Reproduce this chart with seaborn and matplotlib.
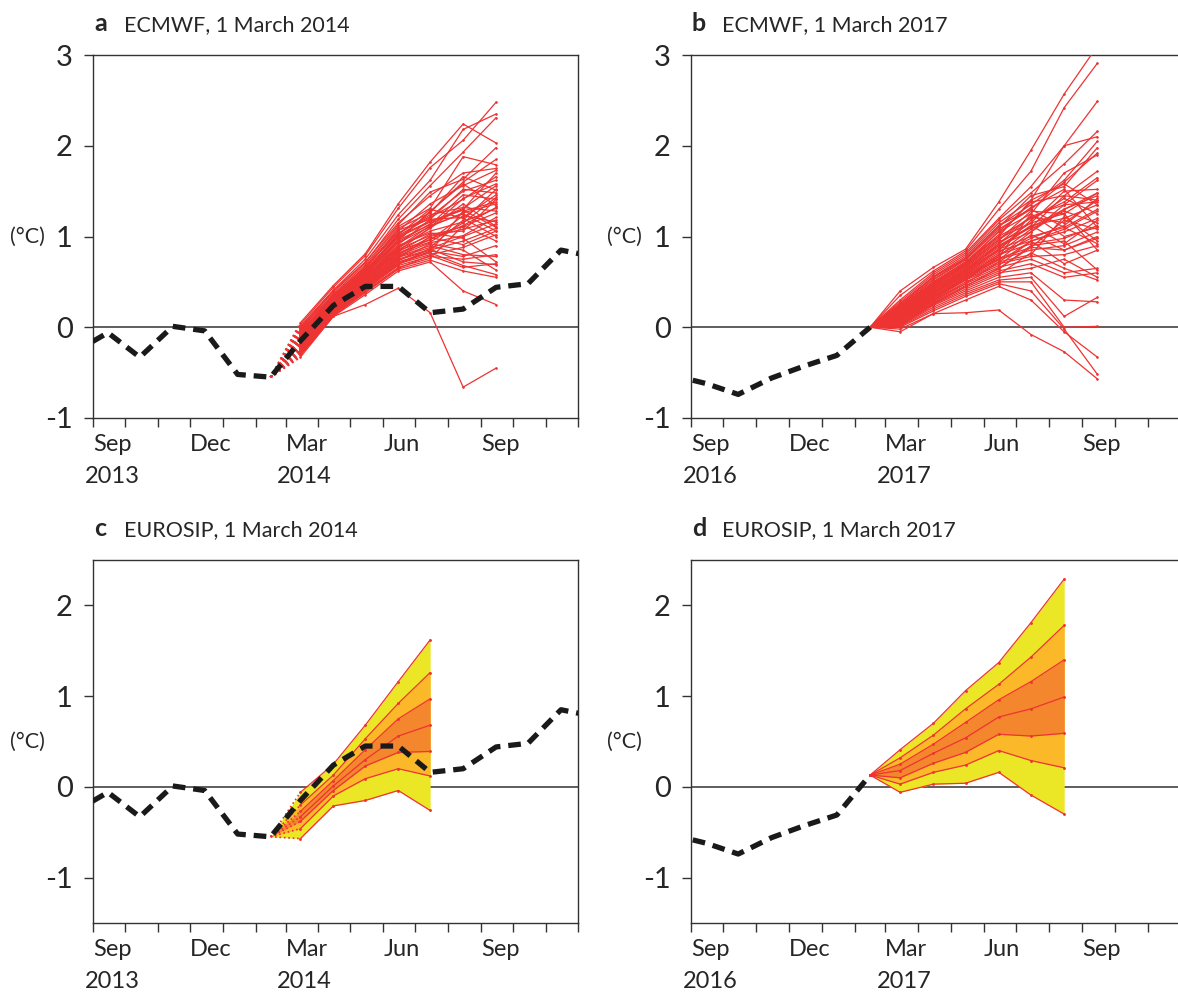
import datetime as dt
import numpy as np
import pandas as pd
import seaborn as sns
import matplotlib
matplotlib.use("Agg")
import matplotlib.pyplot as plt
import matplotlib.transforms as mtransforms

# ---- observed monthly anomalies (deg C), mid-month values ----
obs_1314 = [-0.27, -0.06, -0.33, 0.01, -0.04, -0.52, -0.55, -0.15, 0.24,
            0.45, 0.45, 0.16, 0.20, 0.44, 0.48, 0.85, 0.78]     # Aug 2013 .. Dec 2014
obs_1617 = [-0.53, -0.62, -0.74, -0.56, -0.43, -0.31]           # Aug 2016 .. Jan 2017
init_2014 = -0.55            # forecast start value, Feb 2014
init_2017_ecmwf = 0.00       # forecast start value, Feb 2017 (panel b)
init_2017_eurosip = 0.13     # forecast start value, Feb 2017 (panel d)

# ---- ECMWF ensemble members, Mar .. Sep ----
ecmwf_2014 = [
    [0.05, 0.46, 0.81, 1.36, 1.82, 2.24, 2.03],
    [0.03, 0.44, 0.79, 1.31, 1.76, 2.06, 2.48],
    [0.01, 0.41, 0.75, 1.24, 1.62, 2.18, 2.35],
    [-0.01, 0.39, 0.71, 1.19, 1.56, 1.93, 2.31],
    [-0.03, 0.37, 0.69, 1.13, 1.49, 1.63, 1.98],
    [-0.05, 0.35, 0.67, 1.11, 1.31, 1.88, 1.79],
    [-0.06, 0.34, 0.66, 1.06, 1.36, 1.56, 1.73],
    [-0.08, 0.33, 0.64, 1.09, 1.26, 1.66, 1.51],
    [-0.09, 0.32, 0.62, 1.01, 1.21, 1.41, 1.66],
    [-0.10, 0.31, 0.61, 0.99, 1.16, 1.31, 1.56],
    [-0.11, 0.30, 0.59, 0.96, 1.13, 1.46, 1.41],
    [-0.12, 0.29, 0.58, 0.93, 1.11, 1.26, 1.36],
    [-0.13, 0.28, 0.57, 0.91, 1.19, 1.21, 1.46],
    [-0.14, 0.27, 0.56, 0.89, 1.06, 1.16, 1.31],
    [-0.15, 0.26, 0.55, 0.87, 1.09, 1.36, 1.11],
    [-0.16, 0.26, 0.54, 0.86, 1.01, 1.11, 1.26],
    [-0.17, 0.25, 0.53, 0.85, 0.96, 1.23, 1.16],
    [-0.18, 0.24, 0.52, 0.83, 1.03, 1.06, 1.41],
    [-0.19, 0.23, 0.51, 0.81, 0.99, 0.91, 1.06],
    [-0.20, 0.22, 0.50, 0.79, 0.93, 1.01, 1.21],
    [-0.21, 0.22, 0.49, 0.78, 0.90, 0.80, 0.78],
    [-0.22, 0.21, 0.48, 0.77, 0.88, 1.18, 1.52],
    [-0.23, 0.20, 0.47, 0.75, 0.86, 0.72, 0.69],
    [-0.24, 0.19, 0.46, 0.74, 0.85, 0.95, 1.09],
    [-0.25, 0.18, 0.45, 0.72, 0.83, 1.28, 1.38],
    [-0.26, 0.17, 0.44, 0.71, 0.82, 0.68, 0.58],
    [-0.27, 0.16, 0.43, 0.70, 0.80, 0.88, 1.02],
    [-0.28, 0.15, 0.42, 0.68, 0.78, 0.75, 0.80],
    [-0.29, 0.14, 0.40, 0.66, 0.76, 1.12, 0.95],
    [-0.30, 0.13, 0.38, 0.64, 0.74, 0.62, 0.55],
    [-0.31, 0.12, 0.36, 0.62, 0.72, 0.40, 0.25],
    [-0.33, 0.12, 0.25, 0.43, 0.16, -0.66, -0.45],
    [-0.02, 0.36, 0.66, 1.04, 1.22, 1.50, 1.62],
    [-0.07, 0.31, 0.60, 0.97, 1.27, 1.60, 1.85],
    [-0.10, 0.29, 0.58, 0.94, 1.14, 1.30, 1.70],
    [-0.04, 0.33, 0.63, 1.02, 1.30, 1.20, 1.00],
    [-0.13, 0.27, 0.55, 0.90, 1.04, 0.98, 0.72],
    [-0.16, 0.25, 0.52, 0.84, 1.10, 1.42, 1.58],
    [-0.20, 0.21, 0.48, 0.80, 0.97, 1.12, 1.32],
    [-0.24, 0.19, 0.45, 0.73, 0.92, 0.85, 0.63],
    [-0.28, 0.15, 0.41, 0.69, 0.87, 1.00, 1.14],
    [-0.11, 0.31, 0.61, 1.00, 1.17, 1.29, 1.10],
    [-0.18, 0.24, 0.51, 0.82, 0.94, 1.15, 1.43],
    [-0.08, 0.32, 0.62, 1.03, 1.24, 1.32, 1.28],
    [0.00, 0.40, 0.72, 1.15, 1.45, 1.70, 1.75],
    [-0.26, 0.17, 0.43, 0.70, 0.84, 0.78, 0.90],
    [-0.15, 0.27, 0.54, 0.88, 1.12, 1.25, 1.06],
    [-0.06, 0.35, 0.65, 1.07, 1.19, 1.52, 1.48],
    [-0.22, 0.20, 0.47, 0.76, 1.00, 1.08, 1.18],
    [-0.12, 0.30, 0.60, 0.95, 1.28, 1.58, 1.34],
    [-0.30, 0.13, 0.39, 0.65, 0.79, 0.66, 0.70],
]
ecmwf_2017 = [
    [0.40, 0.66, 0.86, 1.38, 1.95, 2.57, 3.10],
    [0.35, 0.62, 0.84, 1.30, 1.72, 2.42, 2.91],
    [0.30, 0.60, 0.82, 1.20, 1.55, 2.00, 2.49],
    [0.28, 0.58, 0.80, 1.18, 1.48, 1.80, 2.16],
    [0.26, 0.56, 0.78, 1.15, 1.40, 2.00, 2.10],
    [0.25, 0.55, 0.76, 1.12, 1.35, 1.62, 2.05],
    [0.24, 0.53, 0.75, 1.10, 1.45, 1.55, 1.98],
    [0.23, 0.52, 0.74, 1.08, 1.30, 1.60, 1.92],
    [0.22, 0.50, 0.72, 1.05, 1.25, 1.70, 1.90],
    [0.21, 0.49, 0.71, 1.02, 1.38, 1.45, 1.72],
    [0.20, 0.48, 0.70, 1.00, 1.20, 1.38, 1.65],
    [0.19, 0.47, 0.69, 0.98, 1.15, 1.50, 1.52],
    [0.18, 0.46, 0.68, 0.96, 1.28, 1.25, 1.48],
    [0.17, 0.45, 0.67, 0.94, 1.10, 1.30, 1.45],
    [0.16, 0.44, 0.66, 0.92, 1.22, 1.15, 1.40],
    [0.16, 0.43, 0.65, 0.90, 1.05, 1.35, 1.38],
    [0.15, 0.42, 0.64, 0.88, 1.12, 1.20, 1.35],
    [0.14, 0.41, 0.63, 0.86, 1.00, 1.10, 1.30],
    [0.13, 0.40, 0.62, 0.85, 1.18, 1.42, 1.25],
    [0.13, 0.39, 0.61, 0.84, 0.95, 1.05, 1.20],
    [0.12, 0.38, 0.60, 0.82, 1.08, 1.28, 1.15],
    [0.11, 0.37, 0.59, 0.80, 0.92, 0.98, 1.12],
    [0.10, 0.36, 0.58, 0.78, 1.25, 1.00, 1.10],
    [0.10, 0.35, 0.57, 0.76, 0.88, 1.18, 1.08],
    [0.09, 0.34, 0.56, 0.75, 0.85, 0.90, 1.05],
    [0.08, 0.33, 0.55, 0.74, 1.02, 0.85, 1.00],
    [0.08, 0.32, 0.54, 0.72, 0.80, 1.22, 0.95],
    [0.07, 0.31, 0.53, 0.70, 0.78, 0.80, 0.90],
    [0.06, 0.30, 0.52, 0.68, 0.95, 0.70, 0.85],
    [0.06, 0.29, 0.50, 0.66, 0.75, 0.60, 0.65],
    [0.05, 0.28, 0.48, 0.64, 0.90, 0.95, 0.63],
    [0.04, 0.27, 0.46, 0.62, 0.70, 0.55, 0.60],
    [0.04, 0.26, 0.44, 0.60, 0.65, 0.75, 0.55],
    [0.03, 0.25, 0.42, 0.58, 0.82, 0.65, 0.52],
    [0.02, 0.24, 0.40, 0.55, 0.60, 0.30, 0.28],
    [0.02, 0.22, 0.38, 0.52, 0.55, 0.12, 0.33],
    [0.01, 0.20, 0.36, 0.50, 0.50, 0.00, 0.01],
    [0.00, 0.18, 0.34, 0.48, 0.40, -0.02, -0.52],
    [-0.02, 0.15, 0.30, 0.45, 0.30, -0.05, -0.33],
    [-0.05, 0.15, 0.16, 0.19, -0.08, -0.27, -0.57],
    [0.18, 0.45, 0.70, 1.06, 1.32, 1.52, 1.10],
    [0.12, 0.38, 0.62, 0.92, 1.15, 1.25, 0.85],
    [0.09, 0.33, 0.55, 0.80, 0.98, 1.12, 1.42],
    [0.22, 0.50, 0.72, 1.00, 1.40, 1.58, 1.35],
    [0.14, 0.38, 0.58, 0.86, 1.12, 0.92, 1.18],
    [0.07, 0.30, 0.48, 0.72, 0.95, 1.08, 1.28],
    [0.20, 0.48, 0.68, 0.96, 1.22, 1.35, 1.62],
    [0.11, 0.34, 0.52, 0.78, 1.05, 1.30, 1.48],
    [0.03, 0.26, 0.45, 0.65, 0.88, 0.85, 0.98],
    [0.16, 0.42, 0.63, 0.90, 1.10, 1.45, 1.40],
    [0.26, 0.55, 0.76, 1.12, 1.30, 1.10, 0.92],
]

# ---- EUROSIP multi-model percentiles (top to bottom) ----
eurosip_2014 = [                      # Mar .. Jul
    [-0.06, 0.25, 0.68, 1.16, 1.62],
    [-0.20, 0.13, 0.53, 0.92, 1.26],
    [-0.27, 0.07, 0.41, 0.75, 0.97],
    [-0.33, 0.01, 0.30, 0.56, 0.68],
    [-0.38, -0.04, 0.23, 0.38, 0.39],
    [-0.46, -0.10, 0.09, 0.20, 0.12],
    [-0.57, -0.21, -0.15, -0.04, -0.26],
]
eurosip_2017 = [                      # Mar .. Aug
    [0.41, 0.70, 1.06, 1.37, 1.81, 2.29],
    [0.32, 0.57, 0.86, 1.13, 1.43, 1.78],
    [0.25, 0.47, 0.71, 0.96, 1.16, 1.40],
    [0.18, 0.37, 0.54, 0.77, 0.86, 0.99],
    [0.10, 0.26, 0.38, 0.58, 0.56, 0.59],
    [0.03, 0.16, 0.24, 0.40, 0.29, 0.21],
    [-0.06, 0.03, 0.04, 0.16, -0.09, -0.30],
]

month_labels = ['Sep', '', '', 'Dec', '', '', 'Mar', '', '', 'Jun', '', '', 'Sep', '', '', '']

RED = '#ee3333'
YELLOW = '#ebe626'
ORANGE = '#fbb829'
DARK_ORANGE = '#f4862d'
BLACK = '#1a1a1a'

sns.set_style("ticks")
plt.rcParams['font.family'] = ['Lato', 'DejaVu Sans']
plt.rcParams['axes.unicode_minus'] = False


def mid_months(start, n):
    return list(pd.date_range(start, periods=n, freq='MS') + pd.Timedelta(days=14))


def ens_frame(members, dates):
    rows = []
    for m, vals in enumerate(members):
        for d, v in zip(dates, vals):
            rows.append((m, d, v))
    return pd.DataFrame(rows, columns=['member', 'date', 'anom'])


def draw_obs(ax, dates, vals):
    sns.lineplot(x=dates, y=vals, color=BLACK, lw=3.8, ax=ax, zorder=6)
    ax.lines[-1].set_dashes([2.4, 1.5])
    ax.lines[-1].set_solid_capstyle('butt')


def setup_axes(ax, year0, ylim, yticks, title_letter, title):
    start = pd.Timestamp(year0, 9, 1)
    end = pd.Timestamp(year0 + 1, 12, 1)
    ax.set_xlim(start, end)
    ax.set_ylim(*ylim)
    ticks = pd.date_range(start, end, freq='MS')
    ax.set_xticks(ticks)
    ax.set_xticklabels(month_labels, ha='left', fontsize=17)
    ax.set_yticks(yticks)
    ax.set_yticklabels([str(t) for t in yticks], fontsize=21)
    ax.tick_params(axis='both', direction='out', length=6.5, width=1, color='#333333')
    ax.tick_params(axis='x', pad=5)
    ax.tick_params(axis='y', pad=8)
    for s in ax.spines.values():
        s.set_visible(True)
        s.set_color('#333333')
        s.set_linewidth(1.0)
    ax.axhline(0, color='#333333', lw=1.1, zorder=1)
    ax.set_xlabel('')
    ax.set_ylabel('')
    # year labels under Sep and Mar
    trans = mtransforms.offset_copy(ax.get_xaxis_transform(), fig=ax.figure, x=19, y=0, units='dots')
    ax.text(start, -0.16, str(year0), transform=trans, ha='center', va='center', fontsize=17)
    ax.text(pd.Timestamp(year0 + 1, 3, 1), -0.16, str(year0 + 1), transform=trans,
            ha='center', va='center', fontsize=17)
    ax.text(-0.136, 0.5, '(°C)', transform=ax.transAxes, ha='center', va='center', fontsize=15.5)
    ax.text(0.002, 1 + 24 / 363, title_letter, transform=ax.transAxes, ha='left', va='baseline',
            fontsize=18, fontweight='bold')
    ax.text(31 / 485, 1 + 24 / 363, title, transform=ax.transAxes, ha='left', va='baseline',
            fontsize=15.5)


fig = plt.figure(figsize=(11.78, 9.99), dpi=100)
ax_a = fig.add_axes([93 / 1178, 1 - 418 / 999, 485 / 1178, 363 / 999])
ax_b = fig.add_axes([691 / 1178, 1 - 418 / 999, 489 / 1178, 363 / 999])
ax_c = fig.add_axes([93 / 1178, 1 - 923 / 999, 485 / 1178, 363 / 999])
ax_d = fig.add_axes([691 / 1178, 1 - 923 / 999, 489 / 1178, 363 / 999])

obs_dates_1314 = mid_months('2013-08-01', len(obs_1314))
obs_dates_1617 = mid_months('2016-08-01', len(obs_1617) + 1)
fc_dates_2014 = mid_months('2014-02-01', 8)     # Feb (start) .. Sep
fc_dates_2017 = mid_months('2017-02-01', 8)

# ---- panel a ----
ens_a = ens_frame(ecmwf_2014, fc_dates_2014[1:])
sns.lineplot(data=ens_a, x='date', y='anom', units='member', estimator=None, color=RED,
             lw=0.9, marker='o', ms=1.1, mec=RED, ax=ax_a, legend=False, zorder=3)
start_a = ens_frame([[init_2014, r[0]] for r in ecmwf_2014], fc_dates_2014[:2])
sns.lineplot(data=start_a, x='date', y='anom', units='member', estimator=None, color=RED,
             lw=1.4, ls=':', ax=ax_a, legend=False, zorder=3)
draw_obs(ax_a, obs_dates_1314, obs_1314)
setup_axes(ax_a, 2013, (-1, 3), [-1, 0, 1, 2, 3], 'a', 'ECMWF, 1 March 2014')

# ---- panel b ----
ens_b = ens_frame([[init_2017_ecmwf] + r for r in ecmwf_2017], fc_dates_2017)
sns.lineplot(data=ens_b, x='date', y='anom', units='member', estimator=None, color=RED,
             lw=0.9, marker='o', ms=1.1, mec=RED, ax=ax_b, legend=False, zorder=3)
draw_obs(ax_b, obs_dates_1617, obs_1617 + [init_2017_ecmwf])
setup_axes(ax_b, 2016, (-1, 3), [-1, 0, 1, 2, 3], 'b', 'ECMWF, 1 March 2017')


def draw_fan(ax, dates, init, quants, dotted_start):
    q = np.array([[init] + list(r) for r in quants])
    ax.fill_between(dates, q[0], q[6], color=YELLOW, lw=0, zorder=2)
    ax.fill_between(dates, q[1], q[5], color=ORANGE, lw=0, zorder=2)
    ax.fill_between(dates, q[2], q[4], color=DARK_ORANGE, lw=0, zorder=2)
    fan = ens_frame([list(r[1:]) for r in q] if dotted_start else [list(r) for r in q],
                    dates[1:] if dotted_start else dates)
    sns.lineplot(data=fan, x='date', y='anom', units='member', estimator=None, color=RED,
                 lw=0.9, marker='o', ms=1.3, mec=RED, ax=ax, legend=False, zorder=3)
    if dotted_start:
        st = ens_frame([[r[0], r[1]] for r in q], dates[:2])
        sns.lineplot(data=st, x='date', y='anom', units='member', estimator=None, color=RED,
                     lw=1.2, ls=':', ax=ax, legend=False, zorder=3)


# ---- panel c ----
draw_fan(ax_c, fc_dates_2014[:6], init_2014, eurosip_2014, True)
draw_obs(ax_c, obs_dates_1314, obs_1314)
setup_axes(ax_c, 2013, (-1.5, 2.5), [-1, 0, 1, 2], 'c', 'EUROSIP, 1 March 2014')

# ---- panel d ----
draw_fan(ax_d, fc_dates_2017[:7], init_2017_eurosip, eurosip_2017, False)
draw_obs(ax_d, obs_dates_1617, obs_1617 + [init_2017_eurosip])
setup_axes(ax_d, 2016, (-1.5, 2.5), [-1, 0, 1, 2], 'd', 'EUROSIP, 1 March 2017')

fig.savefig('out.png', dpi=100)
